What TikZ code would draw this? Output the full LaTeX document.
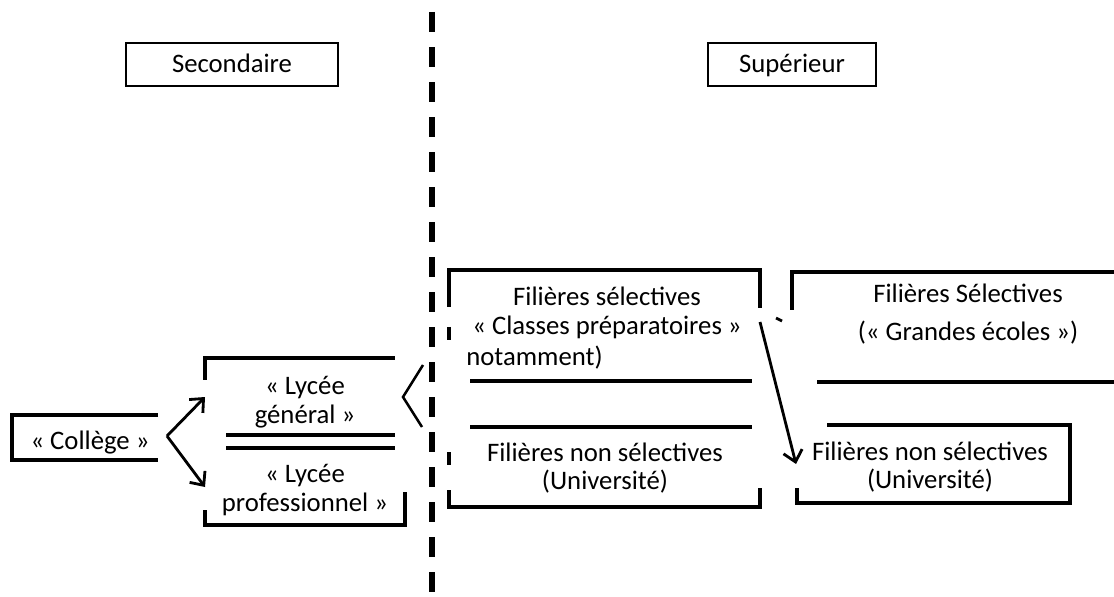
\documentclass[tikz,border=0pt]{standalone}
\usepackage{fontspec}
\setmainfont{Carlito}
\usetikzlibrary{arrows.meta}

\tikzset{
  titre/.style={draw, line width=0.9pt, minimum height=1.075cm, text height=16pt, text depth=4pt, font=\fontsize{19}{21}\selectfont},
  texte/.style={align=center, inner sep=0pt, font=\fontsize{19}{20.5}\selectfont},
  cadre/.style={line width=2.6pt},
  trait/.style={line width=2.3pt},
  fleche/.style={-{Straight Barb[length=2.7mm,width=4.8mm]}, line width=2pt},
}

\begin{document}
\begin{tikzpicture}[x=0.025cm, y=-0.025cm]
      \useasboundingbox (0,0) rectangle (1114,597);
      % separation secondaire / superieur
      \draw[line width=3.9pt, dash pattern=on 14.2pt off 10.7pt] (432,12) -- (432,593);
      \node[titre, minimum width=5.3cm] (secondaire) at (232,64.5) {Secondaire};
      \node[titre, minimum width=4.2cm] (superieur) at (792,64.5) {Supérieur};
      % college
      \draw[cadre] (158,415) -- (12,415) -- (12,460) -- (158,460);
      \node[texte] (college) at (90,443) {« Collège »};
      % lycees
      \draw[cadre] (205,380) -- (205,358) -- (395,358);
      \draw[cadre] (205,510) -- (205,525) -- (405,525) -- (405,492);
      \draw[trait] (226,435) -- (395,435);
      \draw[trait] (226,448) -- (395,448);
      \node[texte] (lyceeGen) at (305,402) {« Lycée\\général »};
      \node[texte] (lyceePro) at (305,490) {« Lycée\\professionnel »};
      \coordinate (colOut) at (167,436);
      \coordinate (versGen) at (205,397);
      \coordinate (versPro) at (205,487);
      \draw[fleche] (colOut) -- (versGen);
      \draw[fleche] (colOut) -- (versPro);
      \coordinate (bifur) at (403,397);
      \draw[line width=1.8pt] (423,365) -- (bifur) -- (422,427);
      % filieres apres le bac
      \draw[cadre] (449,307) -- (449,270) -- (760,270) -- (760,308);
      \draw[cadre] (449,327) -- (449,340);
      \draw[cadre] (449,452) -- (449,465);
      \draw[cadre] (449,490) -- (449,507) -- (760,507) -- (760,488);
      \draw[trait] (470,381) -- (752,381);
      \draw[trait] (470,427) -- (752,427);
      \node[texte] (selectives) at (607,313) {Filières sélectives\\« Classes préparatoires »};
      \node[texte, anchor=west] (notamment) at (466,358) {notamment)};
      \node[texte] (nonSelectives) at (605,468) {Filières non sélectives\\(Université)};
      \coordinate (prepaOut) at (760,322);
      \coordinate (versUniv) at (796,464);
      \draw[fleche] (prepaOut) -- (versUniv);
      \draw[line width=2pt] (776,318) -- (782,321);
      \draw[cadre] (792,310) -- (792,272) -- (1114,272);
      \draw[trait] (817,382) -- (1114,382);
      \node[texte] (grandesEcoles) at (968,314) {Filières Sélectives\\[6pt](« Grandes écoles »)};
      \draw[cadre] (827,425) -- (1070,425) -- (1070,503) -- (797,503) -- (797,488);
      \node[texte] (universite) at (930,467) {Filières non sélectives\\(Université)};
    \end{tikzpicture}
\end{document}
